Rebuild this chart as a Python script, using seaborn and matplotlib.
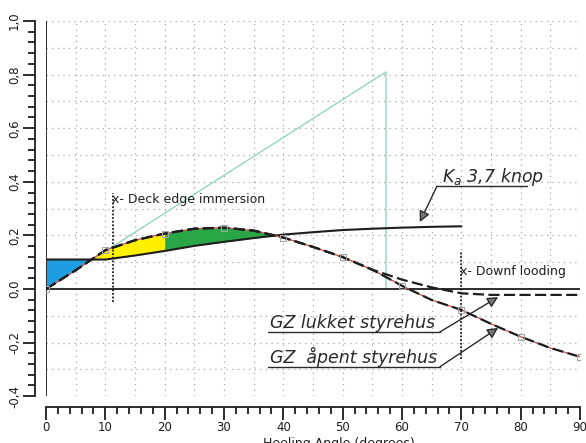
import numpy as np
import pandas as pd
import matplotlib
matplotlib.use("Agg")
import matplotlib.pyplot as plt
from matplotlib.ticker import FixedLocator, FuncFormatter
import seaborn as sns

# ---------------- data ----------------
angles = [0, 5, 10, 15, 20, 25, 30, 35, 40, 45, 50, 55, 60, 65, 70, 75, 80, 85, 90]
gz_lukket = [0.0, 0.07, 0.145, 0.182, 0.207, 0.225, 0.229, 0.218, 0.192, 0.157, 0.119,
             0.072, 0.035, 0.006, -0.016, -0.022, -0.022, -0.022, -0.022]
gz_apent = [0.0, 0.07, 0.145, 0.182, 0.207, 0.225, 0.229, 0.218, 0.192, 0.157, 0.119,
            0.072, 0.012, -0.041, -0.078, -0.13, -0.178, -0.22, -0.253]
wind_angles = [0, 5, 10, 15, 20, 25, 30, 35, 40, 45, 50, 55, 60, 65, 70]
wind_arm = [0.11, 0.11, 0.11, 0.125, 0.142, 0.161, 0.176, 0.19, 0.203, 0.212, 0.22,
            0.225, 0.229, 0.232, 0.234]
gm_angles = [0, 57.3, 57.3]
gm_values = [0.0, 0.81, 0.0]
deck_edge_angle = 11.3
deck_edge_range = [-0.05, 0.36]
downflood_angle = 70.0
downflood_range = [-0.26, 0.14]
x_ticks = [0, 10, 20, 30, 40, 50, 60, 70, 80, 90]
y_ticks = [-0.4, -0.2, 0.0, 0.2, 0.4, 0.6, 0.8, 1.0]

# ---------------- style ----------------
sns.set_style("white")
plt.rcParams['font.family'] = ['DejaVu Sans']
ink = "#1e1e1e"

fig = plt.figure(figsize=(5.86, 4.43), dpi=100)
ax = fig.add_axes([0.0785, 0.1056, 0.9113, 0.847])
ax.set_xlim(0, 90)
ax.set_ylim(-0.4, 1.0)

# dotted grid
for gx in np.arange(5, 91, 5):
    ax.axvline(gx, color="#a8a8a8", lw=0.9, ls=(0, (1, 3.5)), zorder=0.5)
for gy in np.round(np.arange(-0.3, 1.01, 0.1), 2):
    ax.axhline(gy, color="#a8a8a8", lw=0.9, ls=(0, (1, 3.5)), zorder=0.5)

# inner frame lines
ax.axhline(0, color=ink, lw=1.3, zorder=2)
ax.axvline(0, color=ink, lw=1.3, zorder=2)

a = np.array(angles, float)
gzl = np.array(gz_lukket)
gza = np.array(gz_apent)
w = np.array(wind_arm)

# shaded areas
ax.fill_between(a[0:3], w[0:3], gza[0:3], where=w[0:3] >= gza[0:3],
                interpolate=True, color="#1e9de0", lw=0, zorder=1)
ax.fill_between(a[1:5], gza[1:5], w[1:5], where=gza[1:5] >= w[1:5],
                interpolate=True, color="#fff000", lw=0, zorder=1)
ax.fill_between(a[4:9], gza[4:9], w[4:9], where=gza[4:9] >= w[4:9],
                interpolate=True, color="#29a746", lw=0, zorder=1)

# GM line
sns.lineplot(x=gm_angles, y=gm_values, ax=ax, color="#94d6bd", lw=1.0,
             sort=False, estimator=None, zorder=1.5)

# wind heeling arm
sns.lineplot(x=wind_angles, y=wind_arm, ax=ax, color=ink, lw=1.5, zorder=3)

# GZ curves
sns.lineplot(x=angles, y=gz_apent, ax=ax, color="#c84848", lw=0.9, zorder=3)
sns.lineplot(x=angles, y=gz_apent, ax=ax, color=ink, lw=1.6, zorder=3.2)
ax.lines[-1].set_dashes([5, 2])
sns.lineplot(x=angles, y=gz_lukket, ax=ax, color=ink, lw=1.6, zorder=3.1)
ax.lines[-1].set_dashes([5, 2])

# small square markers at data stations
ax.plot(angles[::2], gz_apent[::2], ls="none", marker="s", ms=5,
        mfc="none", mec="#a5a5a5", mew=0.8, zorder=3.5)

# deck edge immersion / downflooding markers
ax.plot([deck_edge_angle] * 2, deck_edge_range, color=ink, lw=1.3,
        ls=(0, (1, 1)), zorder=3)
ax.text(deck_edge_angle - 0.2, deck_edge_range[1] - 0.025, "x- Deck edge immersion",
        fontsize=9, color=ink, ha="left", va="center")
ax.plot([downflood_angle] * 2, downflood_range, color=ink, lw=1.3,
        ls=(0, (1, 1)), zorder=3)
ax.text(downflood_angle - 0.2, downflood_range[1] - 0.075, "x- Downf looding",
        fontsize=9, color=ink, ha="left", va="center")

# handwritten annotations
hand = dict(fontsize=12.5, style="italic", color="#2a2a2a", va="baseline",
            family="DejaVu Sans")
ax.text(66.7, 0.40, r"$K_a$ 3,7 knop", **hand)
ax.plot([65.9, 81.1], [0.384, 0.384], color="#2a2a2a", lw=1.0)
ax.annotate("", xy=(63.0, 0.25), xytext=(65.9, 0.384),
            arrowprops=dict(arrowstyle="-|>", color="#2a2a2a", lw=1.0,
                            mutation_scale=16, shrinkA=0, shrinkB=0,
                            fc="#777777"))

ax.text(37.8, -0.145, "GZ lukket styrehus", **hand)
ax.plot([37.4, 66.4], [-0.16, -0.16], color="#2a2a2a", lw=1.0)
ax.annotate("", xy=(76.2, -0.03), xytext=(66.4, -0.16),
            arrowprops=dict(arrowstyle="-|>", color="#2a2a2a", lw=1.0,
                            mutation_scale=16, shrinkA=0, shrinkB=0,
                            fc="#777777"))

ax.text(37.8, -0.276, "GZ  åpent styrehus", **hand)
ax.plot([37.4, 66.4], [-0.29, -0.29], color="#2a2a2a", lw=1.0)
ax.annotate("", xy=(76.2, -0.145), xytext=(66.4, -0.29),
            arrowprops=dict(arrowstyle="-|>", color="#2a2a2a", lw=1.0,
                            mutation_scale=16, shrinkA=0, shrinkB=0,
                            fc="#777777"))

# rulers (spines)
for s in ["top", "right"]:
    ax.spines[s].set_visible(False)
ax.spines["left"].set_position(("outward", 8))
ax.spines["bottom"].set_position(("outward", 8))
ax.spines["left"].set_bounds(-0.4, 1.0)
ax.spines["bottom"].set_bounds(0, 90)
for s in ["left", "bottom"]:
    ax.spines[s].set_color(ink)
    ax.spines[s].set_linewidth(1.3)

ax.xaxis.set_major_locator(FixedLocator(x_ticks))
ax.xaxis.set_minor_locator(FixedLocator(np.arange(0, 91, 2)))
ax.yaxis.set_major_locator(FixedLocator(y_ticks))
ax.yaxis.set_minor_locator(FixedLocator(np.round(np.arange(-0.4, 1.001, 0.04), 2)))
ax.yaxis.set_major_formatter(FuncFormatter(lambda v, p: f"{v:.1f}".replace(".", ",")))
ax.tick_params(axis="both", which="both", bottom=True, left=True, top=False, right=False)
ax.tick_params(axis="both", which="major", direction="out", length=9, width=1.3,
               color=ink, labelcolor=ink, labelsize=8.5)
ax.tick_params(axis="both", which="minor", direction="out", length=5, width=1.3,
               color=ink)
ax.tick_params(axis="y", which="major", labelrotation=90, pad=1)
ax.tick_params(axis="x", which="major", pad=1)
for lab in ax.get_yticklabels():
    lab.set_va("center")

ax.set_xlabel("Heeling Angle (degrees)", fontsize=9, color=ink)
ax.xaxis.set_label_coords(0.549, -0.108)
ax.set_ylabel("")

fig.savefig("out.png", dpi=100)
